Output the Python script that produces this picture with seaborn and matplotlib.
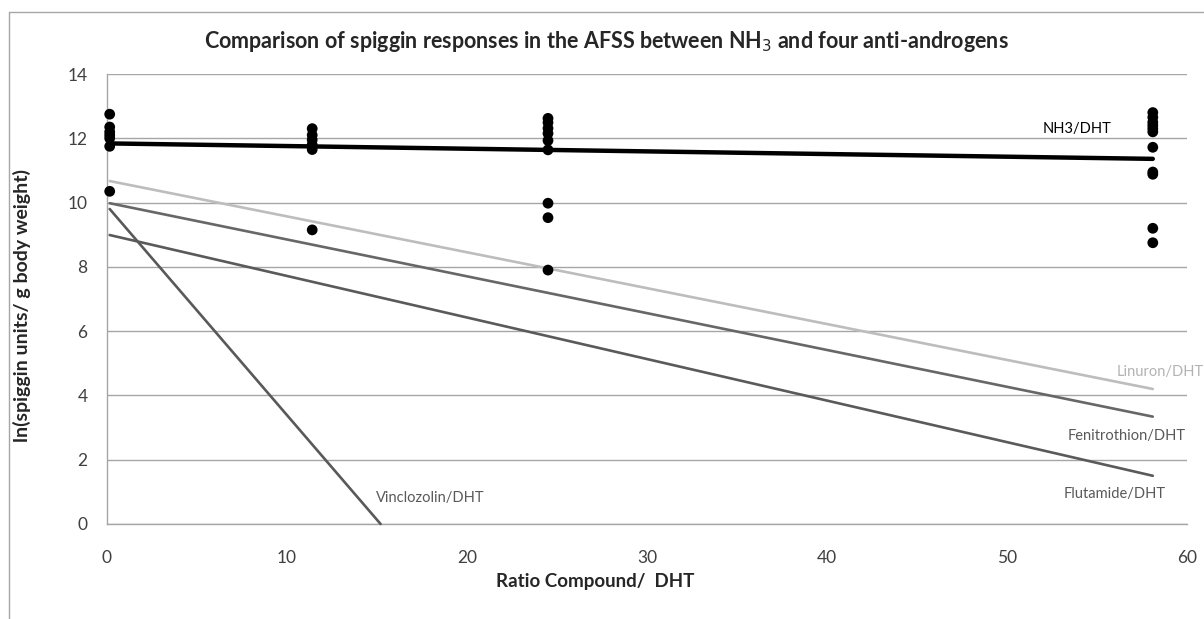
import matplotlib
matplotlib.use("Agg")
import matplotlib.pyplot as plt
import seaborn as sns
import pandas as pd
from matplotlib.font_manager import fontManager
from matplotlib.lines import Line2D

# ---- data ----
dose_x = [0.15, 11.4, 24.5, 58.1]
nh3_y_0 = [12.75, 12.35, 12.2, 12.1, 12.0, 11.75, 10.35]
nh3_y_11 = [12.3, 12.1, 11.95, 11.8, 11.65, 9.15]
nh3_y_24 = [12.62, 12.49, 12.31, 12.15, 11.93, 11.64, 9.98, 9.53, 7.90]
nh3_y_58 = [12.8, 12.65, 12.5, 12.4, 12.3, 12.2, 11.72, 10.95, 10.88, 9.2, 8.75]

series_names = ["NH3/DHT", "Linuron/DHT", "Fenitrothion/DHT", "Flutamide/DHT", "Vinclozolin/DHT"]
line_x = {"NH3/DHT": [0.15, 58.1], "Linuron/DHT": [0.15, 58.1],
          "Fenitrothion/DHT": [0.15, 58.1], "Flutamide/DHT": [0.15, 58.1],
          "Vinclozolin/DHT": [0.15, 15.2]}
line_y = {"NH3/DHT": [11.84, 11.36], "Linuron/DHT": [10.67, 4.2],
          "Fenitrothion/DHT": [9.98, 3.34], "Flutamide/DHT": [8.99, 1.5],
          "Vinclozolin/DHT": [9.8, 0.0]}

x_ticks = [0, 10, 20, 30, 40, 50, 60]
y_ticks = [0, 2, 4, 6, 8, 10, 12, 14]

# ---- styling ----
sns.set_theme(style="white")
names = {f.name for f in fontManager.ttflist}
base = "Lato" if "Lato" in names else "DejaVu Sans"
plt.rcParams["font.family"] = [base, "DejaVu Sans"]

colors = {"NH3/DHT": "#000000", "Linuron/DHT": "#bdbdbd",
          "Fenitrothion/DHT": "#676767", "Flutamide/DHT": "#5a5a5a",
          "Vinclozolin/DHT": "#595959"}
widths = {"NH3/DHT": 3.2, "Linuron/DHT": 1.9, "Fenitrothion/DHT": 1.9,
          "Flutamide/DHT": 1.9, "Vinclozolin/DHT": 1.9}

fig = plt.figure(figsize=(12.04, 6.19), dpi=100)
ax = fig.add_axes([107/1204, 1-524/619, 1080/1204, 450/619])

# scatter points
pts = pd.DataFrame({
    "x": [dose_x[0]]*len(nh3_y_0) + [dose_x[1]]*len(nh3_y_11)
         + [dose_x[2]]*len(nh3_y_24) + [dose_x[3]]*len(nh3_y_58),
    "y": nh3_y_0 + nh3_y_11 + nh3_y_24 + nh3_y_58,
})

# lines
rows = []
for n in series_names:
    for xv, yv in zip(line_x[n], line_y[n]):
        rows.append({"series": n, "x": xv, "y": yv})
lines = pd.DataFrame(rows)
for n in ["Linuron/DHT", "Fenitrothion/DHT", "Flutamide/DHT", "Vinclozolin/DHT", "NH3/DHT"]:
    sns.lineplot(data=lines[lines.series == n], x="x", y="y", ax=ax,
                 color=colors[n], lw=widths[n], zorder=3, clip_on=False)

sns.scatterplot(data=pts, x="x", y="y", ax=ax, color="black", s=60,
                edgecolor="none", zorder=4, clip_on=False)

ax.set_xlim(0, 60)
ax.set_ylim(0, 14)
ax.set_xticks(x_ticks)
ax.set_yticks(y_ticks)
ax.tick_params(axis="both", length=0, labelsize=12.5, labelcolor="#404040")
ax.tick_params(axis="y", pad=14)
ax.tick_params(axis="x", pad=19)
ax.yaxis.grid(True, color="#a6a6a6", lw=1)
ax.xaxis.grid(False)
for s in ["top", "right"]:
    ax.spines[s].set_visible(False)
for s in ["left", "bottom"]:
    ax.spines[s].set_color("#a6a6a6")
    ax.spines[s].set_linewidth(1)

ax.set_xlabel("Ratio Compound/  DHT", fontsize=13.5, fontweight="bold")
ax.set_ylabel("ln(spiggin units/ g body weight)", fontsize=14, fontweight="bold")
ax.xaxis.set_label_coords((595-107)/1080, (524-582)/450)
ax.yaxis.set_label_coords((22-107)/1080, (524-306)/450)
ax.xaxis.label.set_va("center")
ax.yaxis.label.set_va("center")

# series labels
lab_pos = {"NH3/DHT": (53.9, 12.29), "Linuron/DHT": (58.5, 4.72),
           "Fenitrothion/DHT": (56.65, 2.74), "Flutamide/DHT": (56.0, 0.92),
           "Vinclozolin/DHT": (17.94, 0.8)}
lab_col = {"NH3/DHT": "#000000", "Linuron/DHT": "#b3b3b3",
           "Fenitrothion/DHT": "#595959", "Flutamide/DHT": "#595959",
           "Vinclozolin/DHT": "#595959"}
for n in series_names:
    ax.text(*lab_pos[n], n, ha="center", va="center", fontsize=10.5,
            color=lab_col[n], clip_on=False)

fig.text(606/1204, 1-41/619, r"Comparison of spiggin responses in the AFSS between NH$_3$ and four anti-androgens",
         ha="center", va="center", fontsize=15.5, fontweight="bold")

# outer chart frame
fig.add_artist(Line2D([9/1204, 1], [1-12/619, 1-12/619], color="#a6a6a6", lw=1, transform=fig.transFigure))
fig.add_artist(Line2D([9/1204, 9/1204], [0, 1-12/619], color="#a6a6a6", lw=1, transform=fig.transFigure))

fig.savefig("out.png", dpi=100)
